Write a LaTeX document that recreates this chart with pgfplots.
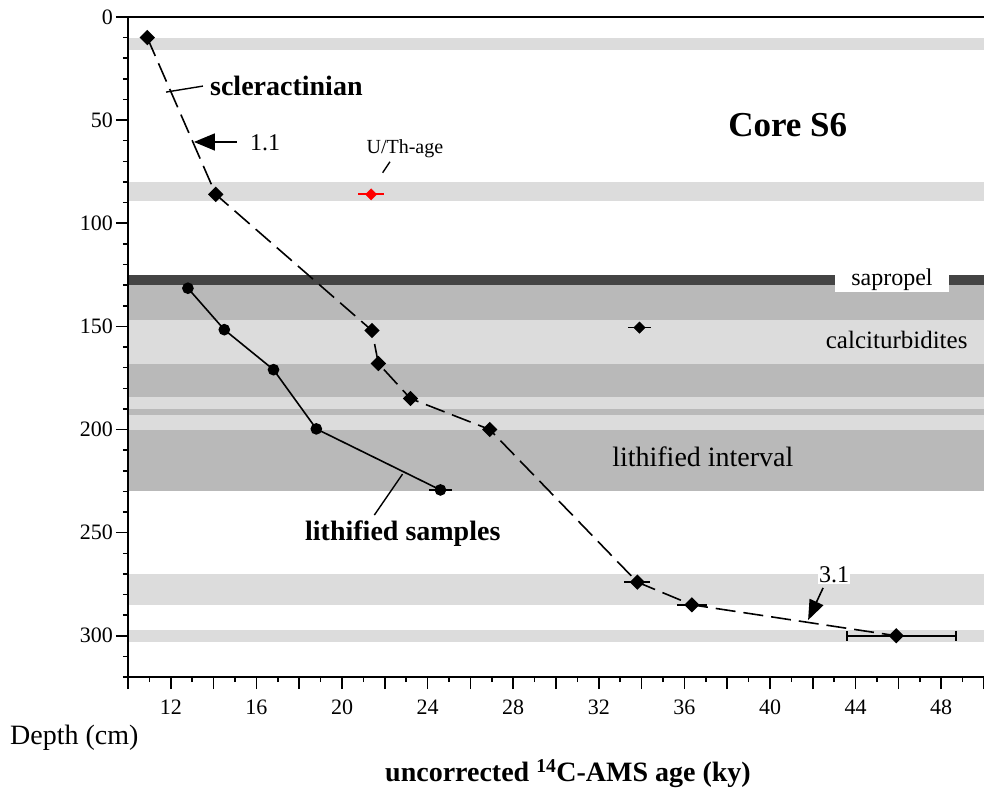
\documentclass[border=0pt]{standalone}
\usepackage{fontspec}
\setmainfont{Liberation Serif}
\usepackage{pgfplots}
\pgfplotsset{compat=1.18}
\usetikzlibrary{arrows.meta}
\definecolor{bandL}{HTML}{DCDCDC}
\definecolor{bandM}{HTML}{B9B9B9}
\definecolor{bandD}{HTML}{444444}
\begin{document}
\begin{tikzpicture}
\begin{axis}[
  scale only axis, width=856pt, height=660pt,
  xmin=10, xmax=50, ymin=0, ymax=320, y dir=reverse,
  axis x line*=box, axis y line*=left,
  xtick pos=left, ytick pos=left,
  axis on top,
  axis line style={line width=1.8pt, black},
  tick align=outside,
  major tick length=12pt, minor tick length=5pt,
  every tick/.style={black, line width=1.5pt},
  xtick={10,12,...,50},
  xticklabels={,12,,16,,20,,24,,28,,32,,36,,40,,44,,48,},
  minor xtick={11,13,...,49},
  ytick={0,50,...,300},
  minor ytick={10,20,...,320},
  /pgf/number format/assume math mode=true,
  xticklabel style={font=\fontsize{22}{22}\selectfont, inner sep=3pt, yshift=-8pt},
  yticklabel style={font=\fontsize{22}{22}\selectfont, inner sep=3pt},
]
% ---- bands ----
\addplot[fill=bandL, draw=none] coordinates {(10,10) (50,10) (50,16) (10,16)} --cycle;
\addplot[fill=bandL, draw=none] coordinates {(10,80) (50,80) (50,89) (10,89)} --cycle;
\addplot[fill=bandD, draw=none] coordinates {(10,125) (50,125) (50,130) (10,130)} --cycle;
\addplot[fill=bandM, draw=none] coordinates {(10,130) (50,130) (50,147) (10,147)} --cycle;
\addplot[fill=bandL, draw=none] coordinates {(10,147) (50,147) (50,168) (10,168)} --cycle;
\addplot[fill=bandM, draw=none] coordinates {(10,168) (50,168) (50,184) (10,184)} --cycle;
\addplot[fill=bandL, draw=none] coordinates {(10,184) (50,184) (50,190) (10,190)} --cycle;
\addplot[fill=bandM, draw=none] coordinates {(10,190) (50,190) (50,193) (10,193)} --cycle;
\addplot[fill=bandL, draw=none] coordinates {(10,193) (50,193) (50,200) (10,200)} --cycle;
\addplot[fill=bandM, draw=none] coordinates {(10,200) (50,200) (50,230) (10,230)} --cycle;
\addplot[fill=bandL, draw=none] coordinates {(10,270) (50,270) (50,285) (10,285)} --cycle;
\addplot[fill=bandL, draw=none] coordinates {(10,297) (50,297) (50,303) (10,303)} --cycle;
% ---- main series ----
\addplot[black, line width=1.6pt, dash pattern=on 20pt off 8pt,
  mark=square*, mark size=4.6pt, mark options={solid, rotate=45}]
  coordinates {(10.9,10) (14.1,86) (21.4,152) (21.7,168) (23.2,185) (26.9,200) (33.8,274) (36.35,285) (45.9,300)};
\addplot[only marks, mark=none, error bars/.cd, x dir=both, x explicit, error mark=none,
  error bar style={black, line width=1.6pt}]
  coordinates {(33.8,274) +- (0.6,0) (36.35,285) +- (0.7,0)};
\addplot[only marks, mark=none, error bars/.cd, x dir=both, x explicit,
  error mark options={black, line width=1.6pt, mark size=5pt, rotate=90},
  error bar style={black, line width=1.6pt}]
  coordinates {(45.9,300) += (2.8,0) -= (2.3,0)};
% ---- lithified samples ----
\addplot[black, line width=1.6pt, mark=*, mark size=5pt]
  coordinates {(12.8,131.5) (14.5,151.6) (16.8,171) (18.8,199.7) (24.6,229.3)};
\addplot[only marks, mark=none, error bars/.cd, x dir=both, x explicit, error mark=none,
  error bar style={black, line width=1.6pt}]
  coordinates {(24.6,229.3) +- (0.55,0)};
% ---- single point ----
\addplot[black, only marks, mark=square*, mark size=4pt, mark options={rotate=45},
  error bars/.cd, x dir=both, x explicit, error mark=none,
  error bar style={black, line width=1.6pt}]
  coordinates {(33.9,150.6) +- (0.55,0)};
% ---- U/Th ----
\addplot[red, only marks, mark=square*, mark size=4pt, mark options={rotate=45},
  error bars/.cd, x dir=both, x explicit, error mark=none,
  error bar style={red, line width=1.8pt}]
  coordinates {(21.36,86) +- (0.6,0)};
% ---- annotations ----
\node[anchor=base west, font=\bfseries\fontsize{28}{28}\selectfont, inner sep=0pt] at (axis cs:13.83,38.3) {scleractinian};
\draw[line width=1.4pt] (axis cs:11.78,36.4) -- (axis cs:13.5,33.5);
\draw[line width=1.6pt, -{Triangle[length=21pt, width=17pt]}] (axis cs:15.09,60.6) -- (axis cs:13.08,60.6);
\node[anchor=base west, font=\fontsize{24}{24}\selectfont, inner sep=0pt] at (axis cs:15.7,64.5) {1.1};
\node[anchor=base west, font=\fontsize{20}{20}\selectfont, inner sep=0pt] at (axis cs:21.14,66.1) {U/Th-age};
\draw[line width=1.4pt] (axis cs:21.9,75.5) -- (axis cs:22.24,70.2);
\node[anchor=base west, font=\bfseries\fontsize{35}{35}\selectfont, inner sep=0pt] at (axis cs:38.04,58) {Core S6};
\node[fill=white, minimum width=114pt, minimum height=18pt, inner sep=0pt] at (axis cs:45.7,128.95) {};
\node[anchor=base, font=\fontsize{24}{24}\selectfont, inner sep=0pt] at (axis cs:45.7,130) {sapropel};
\node[anchor=base west, font=\fontsize{25}{25}\selectfont, inner sep=0pt] at (axis cs:42.6,160.6) {calciturbidites};
\node[anchor=base west, font=\fontsize{28}{28}\selectfont, inner sep=0pt] at (axis cs:32.62,218) {lithified interval};
\node[anchor=base west, font=\bfseries\fontsize{28}{28}\selectfont, inner sep=0pt] at (axis cs:18.27,253.6) {lithified samples};
\draw[line width=1.4pt] (axis cs:21.51,241.5) -- (axis cs:22.83,221.6);
\node[anchor=base west, fill=white, font=\fontsize{24}{24}\selectfont, inner sep=1pt] at (axis cs:42.24,274.4) {3.1};
\draw[line width=1.6pt, -{Triangle[length=20pt, width=15pt]}] (axis cs:42.48,276.8) -- (axis cs:41.78,292.4);
\coordinate (TL) at (axis cs:10,0);
\coordinate (BR) at (axis cs:50,320);
\end{axis}
\node[anchor=base west, font=\fontsize{28}{28}\selectfont, inner sep=0pt] at ([xshift=-118pt,yshift=-728pt]TL) {Depth (cm)};
\node[anchor=base, font=\bfseries\fontsize{28}{28}\selectfont, inner sep=0pt] at ([xshift=440pt,yshift=-765pt]TL) {uncorrected \textsuperscript{14}C-AMS age (ky)};
\pgfresetboundingbox
\path ([xshift=-128pt,yshift=17pt]TL) rectangle ([yshift=-114pt]BR);
\end{tikzpicture}
\end{document}
